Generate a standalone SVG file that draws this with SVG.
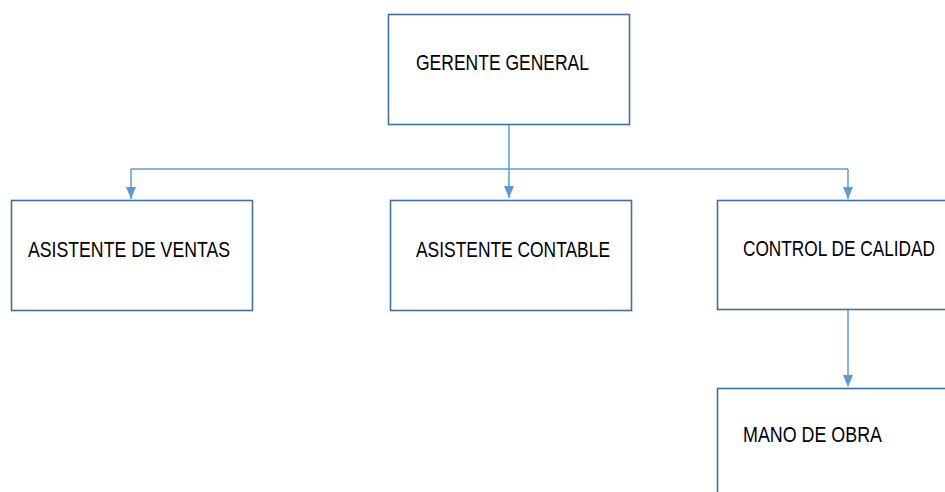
<svg xmlns="http://www.w3.org/2000/svg" width="945" height="492" viewBox="0 0 945 492">
<style>
.box{fill:#fff;stroke:#41719c;stroke-width:1.6}
.lbl{font-family:"Liberation Sans",Arial,sans-serif;font-size:22px;fill:#000}
.conn{fill:none;stroke:#5b9bd5;stroke-width:1.5}
</style>
<defs>
<marker id="arr" markerWidth="10" markerHeight="12" refX="5" refY="12" orient="auto-start-reverse" markerUnits="userSpaceOnUse" viewBox="0 0 10 12">
<path d="M0,0 L10,0 L5,12 Z" fill="#5b9bd5" transform="rotate(0)"/>
</marker>
</defs>
<rect width="945" height="492" fill="#fff"/>
<g id="connectors">
<path class="conn" d="M509,124 V198"/>
<path class="conn" d="M131,169 H848"/>
<path class="conn" d="M131,169 V199"/>
<path class="conn" d="M848,169 V199"/>
<path class="conn" d="M848,310 V386"/>
<path d="M504,186 L514,186 L509,198 Z" fill="#5b9bd5"/>
<path d="M126,187 L136,187 L131,199 Z" fill="#5b9bd5"/>
<path d="M843,187 L853,187 L848,199 Z" fill="#5b9bd5"/>
<path d="M843,375 L853,375 L848,387 Z" fill="#5b9bd5"/>
</g>
<g id="gerente">
<rect class="box" x="388.5" y="14.5" width="241" height="110"/>
<text class="lbl" x="416" y="70" textLength="173" lengthAdjust="spacingAndGlyphs">GERENTE GENERAL</text>
</g>
<g id="ventas">
<rect class="box" x="11.5" y="200.5" width="241" height="110"/>
<text class="lbl" x="28" y="257" textLength="202" lengthAdjust="spacingAndGlyphs">ASISTENTE DE VENTAS</text>
</g>
<g id="contable">
<rect class="box" x="390.5" y="200.5" width="241" height="110"/>
<text class="lbl" x="416" y="257" textLength="194" lengthAdjust="spacingAndGlyphs">ASISTENTE CONTABLE</text>
</g>
<g id="calidad">
<rect class="box" x="717.5" y="200.5" width="240" height="109"/>
<text class="lbl" x="743" y="256" textLength="192" lengthAdjust="spacingAndGlyphs">CONTROL DE CALIDAD</text>
</g>
<g id="mano">
<rect class="box" x="717.5" y="388.5" width="240" height="120"/>
<text class="lbl" x="743" y="442" textLength="139" lengthAdjust="spacingAndGlyphs">MANO DE OBRA</text>
</g>
</svg>
